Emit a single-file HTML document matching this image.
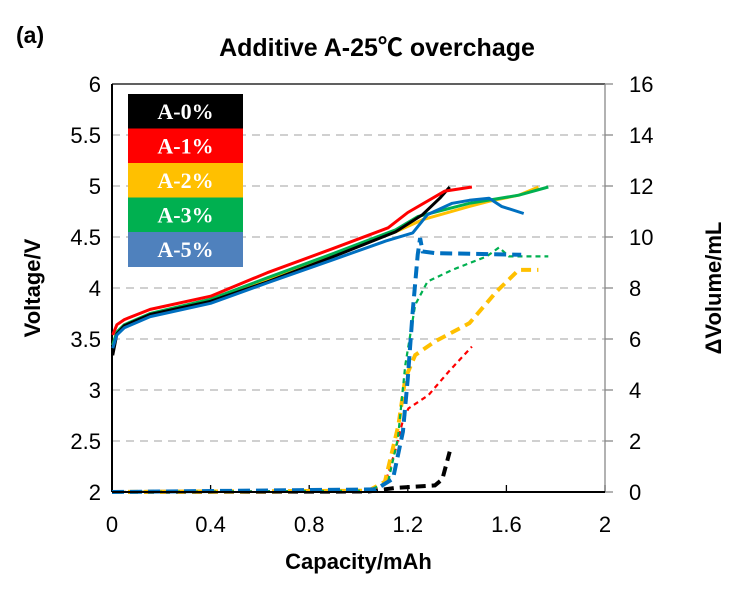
<!DOCTYPE html>
<html><head><meta charset="utf-8"><style>
body{margin:0;background:#fff}
svg{display:block;font-family:"Liberation Sans",sans-serif}
</style></head><body>
<svg id="c" width="744" height="593"></svg>
<script>
const capTicks=[0,0.4,0.8,1.2,1.6,2];
const capTickLabels=["0","0.4","0.8","1.2","1.6","2"];
const vTicks=[2,2.5,3,3.5,4,4.5,5,5.5,6];
const vTickLabels=["2","2.5","3","3.5","4","4.5","5","5.5","6"];
const volTicks=[0,2,4,6,8,10,12,14,16];
const seriesNames=["A-0%","A-1%","A-2%","A-3%","A-5%"];
const seriesColors=["#000000","#ff0000","#ffc000","#00b050","#0070c0"];
const legendColors=["#000000","#ff0000","#ffc000","#00b050","#4f81bd"];
// voltage curves [capacity, V]
const vA0=[[0.003,3.34],[0.02,3.55],[0.05,3.63],[0.155,3.74],[0.40,3.87],[0.63,4.06],[0.90,4.31],[1.15,4.55],[1.26,4.72],[1.33,4.88],[1.37,4.99]];
const vA1=[[0.003,3.54],[0.02,3.64],[0.05,3.69],[0.155,3.79],[0.40,3.92],[0.63,4.15],[0.90,4.39],[1.12,4.59],[1.20,4.74],[1.35,4.95],[1.46,4.99]];
const vA2=[[0.003,3.44],[0.02,3.56],[0.05,3.63],[0.155,3.74],[0.40,3.87],[0.63,4.08],[0.90,4.33],[1.15,4.55],[1.26,4.67],[1.45,4.80],[1.53,4.85],[1.65,4.91],[1.73,4.99]];
const vA3=[[0.003,3.44],[0.02,3.57],[0.05,3.64],[0.155,3.75],[0.40,3.89],[0.63,4.10],[0.90,4.34],[1.15,4.57],[1.24,4.70],[1.45,4.83],[1.65,4.91],[1.77,4.99]];
const vA5=[[0.003,3.41],[0.02,3.54],[0.05,3.61],[0.155,3.72],[0.40,3.85],[0.63,4.05],[0.90,4.28],[1.11,4.46],[1.22,4.54],[1.28,4.72],[1.38,4.83],[1.45,4.86],[1.53,4.88],[1.58,4.80],[1.67,4.73]];
// volume curves [capacity, mL]
const gA0=[[0,0],[1.04,0.02],[1.15,0.16],[1.31,0.26],[1.34,0.5],[1.37,1.58]];
const gA1=[[0,0],[1.04,0.05],[1.107,0.32],[1.148,1.58],[1.182,2.88],[1.203,3.28],[1.284,3.8],[1.366,4.72],[1.46,5.7]];
const gA2=[[0,0],[1.04,0.05],[1.107,0.4],[1.162,2.62],[1.19,4.46],[1.23,5.37],[1.31,5.9],[1.45,6.62],[1.56,7.86],[1.65,8.71],[1.73,8.71]];
const gA3=[[0,0],[1.04,0.05],[1.12,0.4],[1.16,2.1],[1.19,4.98],[1.23,7.34],[1.28,8.25],[1.38,8.71],[1.52,9.24],[1.57,9.59],[1.61,9.24],[1.77,9.24]];
const gA5=[[0,0],[1.07,0.1],[1.14,0.52],[1.18,2.36],[1.20,4.46],[1.22,7.08],[1.24,9.3],[1.25,9.96],[1.26,9.43],[1.31,9.37],[1.66,9.3]];

const NS="http://www.w3.org/2000/svg",svg=document.getElementById('c');
const X0=112,X1=605,Y0=492,Y1=84;
const xs=c=>X0+(c/2)*(X1-X0);
const yv=v=>Y0-(v-2)/4*(Y0-Y1);
const yg=g=>Y0-g/16*(Y0-Y1);
function mk(t,a,p){const e=document.createElementNS(NS,t);for(const k in a)e.setAttribute(k,a[k]);(p||svg).appendChild(e);return e;}
vTicks.forEach((v,i)=>{if(v>2&&v<6){const g=mk('line',{x1:X0,x2:X1,y1:yv(v),y2:yv(v),stroke:'#d0d0d0','stroke-width':2,'stroke-dasharray':'8,6'});

}
const t=mk('text',{x:101,y:yv(v)+8,'text-anchor':'end','font-size':22,fill:'#000'});t.textContent=vTickLabels[i];


});
volTicks.forEach(g=>{const l=mk('line',{x1:X1,x2:X1+8,y1:yg(g),y2:yg(g),stroke:'#888','stroke-width':1.3});


const t=mk('text',{x:629,y:yg(g)+8,'font-size':22,fill:'#000'});t.textContent=String(g);

});
capTicks.forEach((c,i)=>{const l=mk('line',{x1:xs(c),x2:xs(c),y1:Y0,y2:Y0-7,stroke:'#000','stroke-width':1.3});


const t=mk('text',{x:xs(c),y:Y0+40,'text-anchor':'middle','font-size':22,fill:'#000'});t.textContent=capTickLabels[i];

});
mk('line',{x1:X0,x2:X1,y1:Y1,y2:Y1,stroke:'#000','stroke-width':1.3,});
mk('line',{x1:X1,x2:X1,y1:Y1,y2:Y0,stroke:'#888','stroke-width':1.3,});
mk('line',{x1:X0,x2:X0,y1:Y1,y2:Y0,stroke:'#000','stroke-width':2,});
const pts=(d,f)=>d.map(p=>xs(p[0]).toFixed(1)+','+f(p[1]).toFixed(1)).join(' ');
const gas=[gA0,gA1,gA2,gA3,gA5];
const gw=[4,2.2,4,2.2,4],gd=['10,6','5,4','10,6','5,4','12,6'];
gas.forEach((d,i)=>{const p=mk('polyline',{points:pts(d,yg),fill:'none',stroke:seriesColors[i],'stroke-width':gw[i],'stroke-dasharray':gd[i]});

});
const vs=[vA0,vA1,vA2,vA3,vA5];
[2,3,0,4,1].forEach(i=>{const p=mk('polyline',{points:pts(vs[i],yv),fill:'none',stroke:seriesColors[i],'stroke-width':3,'stroke-linejoin':'round'});

});
mk('line',{x1:X0,x2:X1,y1:Y0,y2:Y0,stroke:'#000','stroke-width':2,});
seriesNames.forEach((n,i)=>{const y=94+i*34.5;
const r=mk('rect',{x:128,y:y,width:115,height:35,fill:legendColors[i]});


const t=mk('text',{x:185.5,y:y+25,'text-anchor':'middle','font-size':22,'font-weight':'bold',fill:'#fff','font-family':'Liberation Serif,serif'});t.textContent=n;

});
</script>
<div style="position:absolute;left:0;top:0;width:744px;height:593px;pointer-events:none;font-family:'Liberation Sans','Noto Sans CJK SC',sans-serif">
<div style="position:absolute;left:16px;top:22px;font-size:23px;font-weight:bold">(a)</div>
<div style="position:absolute;left:0;width:744px;text-align:center;top:28px;font-size:25px;font-weight:bold;padding-left:10px;box-sizing:border-box">Additive A-25℃ overchage</div>
<div style="position:absolute;left:112px;width:493px;text-align:center;top:549px;font-size:22px;font-weight:bold">Capacity/mAh</div>
<div style="position:absolute;left:33px;top:288px;width:0;height:0"><div style="position:absolute;transform:translate(-50%,-50%) rotate(-90deg);white-space:nowrap;font-size:22px;font-weight:bold">Voltage/V</div></div>
<div style="position:absolute;left:714px;top:288px;width:0;height:0"><div style="position:absolute;transform:translate(-50%,-50%) rotate(-90deg);white-space:nowrap;font-size:22px;font-weight:bold">ΔVolume/mL</div></div>
</div>
</body></html>
